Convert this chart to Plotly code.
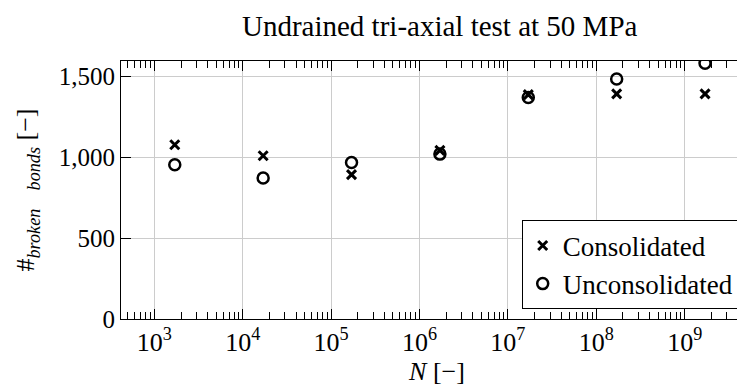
import plotly.graph_objects as go

# Number of cycles N and broken bonds
n_cycles = [1.7e3, 1.7e4, 1.7e5, 1.7e6, 1.7e7, 1.7e8, 1.7e9]
consolidated = [1078, 1010, 893, 1043, 1388, 1393, 1393]
unconsolidated = [954, 872, 968, 1020, 1370, 1485, 1582]

x_ticks = [1e3, 1e4, 1e5, 1e6, 1e7, 1e8, 1e9]
x_ticktext = ["10<sup>%d</sup>" % e for e in range(3, 10)]
y_ticks = [0, 500, 1000, 1500]

FONT = "'Liberation Serif', 'Times New Roman', Times, serif"

fig = go.Figure()
fig.add_trace(go.Scatter(x=n_cycles, y=consolidated, mode="markers", name="Consolidated",
                         marker=dict(symbol="x-thin-open", size=9, color="black",
                                     line=dict(width=3, color="black"))))
fig.add_trace(go.Scatter(x=n_cycles, y=unconsolidated, mode="markers", name="Unconsolidated",
                         marker=dict(symbol="circle-open", size=11, color="black",
                                     line=dict(width=2.5, color="black"))))

fig.update_layout(
    width=745, height=388,
    margin=dict(l=113, r=0, t=53, b=77),
    plot_bgcolor="white", paper_bgcolor="white",
    font=dict(family=FONT, size=25, color="black"),
    title=dict(text="Undrained tri-axial test at 50 MPa", font=dict(family=FONT, size=29),
               x=431.7 / 745, xanchor="center", y=1 - 18 / 388, yanchor="middle"),
    xaxis=dict(type="log", range=[2.622, 9.773], tickvals=x_ticks, ticktext=x_ticktext,
               showline=True, linecolor="black", linewidth=1, mirror="ticks",
               ticks="inside", ticklen=10, tickcolor="black",
               tickfont=dict(family=FONT, size=26),
               minor=dict(ticks="inside", ticklen=7, tickcolor="black", showgrid=False,
                          dtick="D1"),
               showgrid=True, gridcolor="#cccccc", gridwidth=1, zeroline=False,
               title=dict(text="<i>N</i> [−]", standoff=4, font=dict(family=FONT, size=26))),
    yaxis=dict(range=[0, 1596], tickvals=y_ticks, tickformat=",d",
               showline=True, linecolor="black", linewidth=1, mirror=False,
               ticks="inside", ticklen=10, tickcolor="black",
               tickfont=dict(family=FONT, size=25),
               showgrid=True, gridcolor="#cccccc", gridwidth=1, zeroline=False,
               title=dict(text="#<sub><i>broken</i>\u00a0\u00a0\u00a0\u00a0<i>bonds</i></sub> [−]",
                          standoff=16, font=dict(family=FONT, size=26))),
    yaxis2=dict(range=[0, 1596], overlaying="y", anchor="free", position=1, side="left",
                tickvals=y_ticks, showticklabels=False, ticks="outside", ticklen=5,
                tickcolor="black", showgrid=False, showline=False, zeroline=False),
    legend=dict(x=(730.7 - 113) / (745 - 113), xanchor="right", y=0.037, yanchor="bottom",
                bgcolor="white", bordercolor="black", borderwidth=1,
                font=dict(family=FONT, size=27), itemwidth=30),
)
# dummy invisible trace so the right-hand tick stubs are drawn
fig.add_trace(go.Scatter(x=[n_cycles[0]], y=[0], yaxis="y2", showlegend=False,
                         mode="markers", marker=dict(opacity=0), hoverinfo="skip"))

fig.write_html("out.html")
